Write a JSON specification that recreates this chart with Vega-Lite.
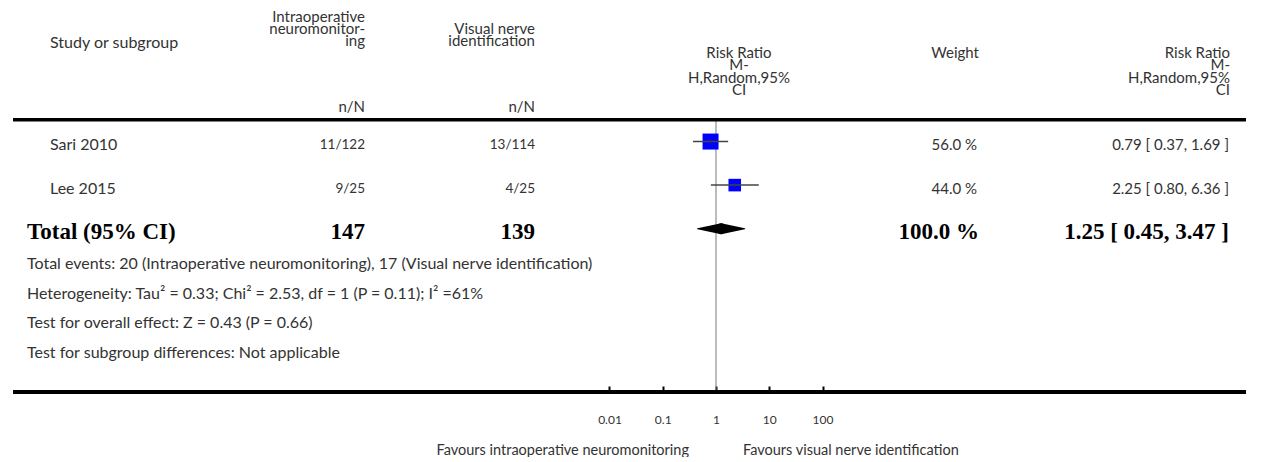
{
  "$schema": "https://vega.github.io/schema/vega-lite/v6.json",
  "background": "white",
  "padding": {"left": 11, "top": 0, "right": 0, "bottom": 0},
  "spacing": 0,
  "bounds": "flush",
  "resolve": {"scale": {"y": "shared"}},
  "config": {
    "view": {"stroke": null},
    "text": {"font": "Lato", "fontSize": 16, "color": "#333333"}
  },
  "datasets": {
    "studies": [
      {"study": "Sari 2010", "row": 1, "int": "11/122", "vis": "13/114", "rr": 0.79, "lo": 0.37, "hi": 1.69, "weight": 56.0, "wtxt": "56.0 %", "ci": "0.79 [ 0.37, 1.69 ]"},
      {"study": "Lee 2015", "row": 2, "int": "9/25", "vis": "4/25", "rr": 2.25, "lo": 0.80, "hi": 6.36, "weight": 44.0, "wtxt": "44.0 %", "ci": "2.25 [ 0.80, 6.36 ]"}
    ],
    "total": [
      {"label": "Total (95% CI)", "row": 3, "int": "147", "vis": "139", "rr": 1.25, "lo": 0.45, "hi": 3.47, "wtxt": "100.0 %", "ci": "1.25 [ 0.45, 3.47 ]"}
    ],
    "headers": [
      {"col": "study", "lines": ["Study or subgroup"]},
      {"col": "int", "lines": ["Intraoperative", "neuromonitor-", "ing"]},
      {"col": "vis", "lines": ["Visual nerve", "identification"]},
      {"col": "plot", "lines": ["Risk Ratio", "M-", "H,Random,95%", "CI"]},
      {"col": "weight", "lines": ["Weight"]},
      {"col": "ci", "lines": ["Risk Ratio", "M-", "H,Random,95%", "CI"]}
    ],
    "units": [
      {"col": "int", "text": "n/N"},
      {"col": "vis", "text": "n/N"}
    ],
    "notes": [
      {"lines": [
        "Total events: 20 (Intraoperative neuromonitoring), 17 (Visual nerve identification)",
        "Heterogeneity: Tau² = 0.33; Chi² = 2.53, df = 1 (P = 0.11); I² =61%",
        "Test for overall effect: Z = 0.43 (P = 0.66)",
        "Test for subgroup differences: Not applicable"
      ]}
    ],
    "favours": [
      {"side": "left", "text": "Favours intraoperative neuromonitoring"},
      {"side": "right", "text": "Favours visual nerve identification"}
    ]
  },
  "hconcat": [
    {
      "width": 352,
      "height": 392,
      "layer": [
        {
          "data": {"name": "total"},
          "mark": {"type": "rule", "color": "black", "strokeWidth": 3.5},
          "encoding": {"y": {"datum": 0.5, "type": "quantitative", "scale": {"domain": [-2.25, 6.75], "reverse": true, "nice": false, "zero": false}, "axis": null}}
        },
        {
          "data": {"name": "total"},
          "mark": {"type": "rule", "color": "black", "strokeWidth": 4},
          "encoding": {"y": {"value": "height"}}
        },
        {
          "data": {"name": "headers"},
          "transform": [{"filter": "datum.col == 'study'"}],
          "mark": {"type": "text", "align": "left", "baseline": "alphabetic", "dx": 37, "dy": -50},
          "encoding": {
            "x": {"value": 0},
            "y": {"datum": 0, "type": "quantitative", "axis": null},
            "text": {"field": "lines"}
          }
        },
        {
          "data": {"name": "headers"},
          "transform": [{"filter": "datum.col == 'int'"}],
          "mark": {"type": "text", "align": "right", "baseline": "alphabetic", "dy": -76, "lineHeight": 12, "fontSize": 15},
          "encoding": {
            "x": {"value": "width"},
            "y": {"datum": 0, "type": "quantitative", "axis": null},
            "text": {"field": "lines"}
          }
        },
        {
          "data": {"name": "units"},
          "transform": [{"filter": "datum.col == 'int'"}],
          "mark": {"type": "text", "align": "right", "baseline": "alphabetic", "dy": 14, "fontSize": 15},
          "encoding": {
            "x": {"value": "width"},
            "y": {"datum": 0, "type": "quantitative", "axis": null},
            "text": {"field": "text"}
          }
        },
        {
          "data": {"name": "studies"},
          "mark": {"type": "text", "align": "left", "baseline": "middle", "dx": 37, "dy": 3.5},
          "encoding": {
            "x": {"value": 0},
            "y": {"field": "row", "type": "quantitative", "axis": null},
            "text": {"field": "study"}
          }
        },
        {
          "data": {"name": "studies"},
          "mark": {"type": "text", "align": "right", "baseline": "middle", "dy": 3.5, "fontSize": 13.5},
          "encoding": {
            "x": {"value": "width"},
            "y": {"field": "row", "type": "quantitative", "axis": null},
            "text": {"field": "int"}
          }
        },
        {
          "data": {"name": "total"},
          "mark": {"type": "text", "align": "left", "baseline": "middle", "dx": 14, "dy": 3.5, "font": "Liberation Serif", "fontWeight": "bold", "fontSize": 23, "color": "black"},
          "encoding": {
            "x": {"value": 0},
            "y": {"field": "row", "type": "quantitative", "axis": null},
            "text": {"field": "label"}
          }
        },
        {
          "data": {"name": "total"},
          "mark": {"type": "text", "align": "right", "baseline": "middle", "dy": 3.5, "font": "Liberation Serif", "fontWeight": "bold", "fontSize": 23, "color": "black"},
          "encoding": {
            "x": {"value": "width"},
            "y": {"field": "row", "type": "quantitative", "axis": null},
            "text": {"field": "int"}
          }
        },
        {
          "data": {"name": "notes"},
          "mark": {"type": "text", "align": "left", "baseline": "alphabetic", "dx": 14, "dy": 40.3, "lineHeight": 29.6},
          "encoding": {
            "x": {"value": 0},
            "y": {"datum": 3, "type": "quantitative", "axis": null},
            "text": {"field": "lines"}
          }
        }
      ]
    },
    {
      "width": 170,
      "height": 392,
      "layer": [
        {
          "data": {"name": "total"},
          "mark": {"type": "rule", "color": "black", "strokeWidth": 3.5},
          "encoding": {"y": {"datum": 0.5, "type": "quantitative", "scale": {"domain": [-2.25, 6.75], "reverse": true, "nice": false, "zero": false}, "axis": null}}
        },
        {
          "data": {"name": "total"},
          "mark": {"type": "rule", "color": "black", "strokeWidth": 4},
          "encoding": {"y": {"value": "height"}}
        },
        {
          "data": {"name": "headers"},
          "transform": [{"filter": "datum.col == 'vis'"}],
          "mark": {"type": "text", "align": "right", "baseline": "alphabetic", "dy": -64, "lineHeight": 12, "fontSize": 15},
          "encoding": {
            "x": {"value": "width"},
            "y": {"datum": 0, "type": "quantitative", "axis": null},
            "text": {"field": "lines"}
          }
        },
        {
          "data": {"name": "units"},
          "transform": [{"filter": "datum.col == 'vis'"}],
          "mark": {"type": "text", "align": "right", "baseline": "alphabetic", "dy": 14, "fontSize": 15},
          "encoding": {
            "x": {"value": "width"},
            "y": {"datum": 0, "type": "quantitative", "axis": null},
            "text": {"field": "text"}
          }
        },
        {
          "data": {"name": "studies"},
          "mark": {"type": "text", "align": "right", "baseline": "middle", "dy": 3.5, "fontSize": 13.5},
          "encoding": {
            "x": {"value": "width"},
            "y": {"field": "row", "type": "quantitative", "axis": null},
            "text": {"field": "vis"}
          }
        },
        {
          "data": {"name": "total"},
          "mark": {"type": "text", "align": "right", "baseline": "middle", "dy": 3.5, "font": "Liberation Serif", "fontWeight": "bold", "fontSize": 23, "color": "black"},
          "encoding": {
            "x": {"value": "width"},
            "y": {"field": "row", "type": "quantitative", "axis": null},
            "text": {"field": "vis"}
          }
        }
      ]
    },
    {
      "width": 471,
      "height": 392,
      "resolve": {"scale": {"size": "independent"}},
      "layer": [
        {
          "data": {"name": "total"},
          "mark": {"type": "rule", "color": "#777777", "strokeWidth": 1},
          "encoding": {
            "x": {
              "datum": 1, "type": "quantitative",
              "scale": {"type": "log", "domain": [0.00039899, 279250], "nice": false},
              "axis": {
                "orient": "bottom", "values": [0.01, 0.1, 1, 10, 100], "format": "~g", "title": null,
                "grid": false, "domain": false, "tickSize": -6, "tickWidth": 2, "tickColor": "black",
                "labelPadding": 28, "labelFont": "Lato", "labelFontSize": 12, "labelColor": "#333333"
              }
            },
            "y": {"datum": 0.5, "type": "quantitative", "scale": {"domain": [-2.25, 6.75], "reverse": true, "nice": false, "zero": false}, "axis": null},
            "y2": {"value": "height"}
          }
        },
        {
          "data": {"name": "total"},
          "mark": {"type": "rule", "color": "black", "strokeWidth": 3.5},
          "encoding": {"y": {"datum": 0.5, "type": "quantitative"}}
        },
        {
          "data": {"name": "total"},
          "mark": {"type": "rule", "color": "black", "strokeWidth": 4},
          "encoding": {"y": {"value": "height"}}
        },
        {
          "data": {"name": "studies"},
          "mark": {"type": "point", "shape": "square", "filled": true, "color": "#0000ff", "opacity": 1},
          "encoding": {
            "x": {"field": "rr", "type": "quantitative"},
            "y": {"field": "row", "type": "quantitative"},
            "size": {"field": "weight", "type": "quantitative", "scale": {"type": "pow", "exponent": 2, "domain": [0, 56], "range": [0, 256]}, "legend": null}
          }
        },
        {
          "data": {"name": "studies"},
          "mark": {"type": "rule", "color": "#444444", "strokeWidth": 1.5},
          "encoding": {
            "x": {"field": "lo", "type": "quantitative"},
            "x2": {"field": "hi"},
            "y": {"field": "row", "type": "quantitative"}
          }
        },
        {
          "data": {"name": "studies"},
          "mark": {"type": "tick", "orient": "vertical", "color": "#333333", "size": 5, "thickness": 1},
          "encoding": {
            "x": {"field": "rr", "type": "quantitative"},
            "y": {"field": "row", "type": "quantitative"}
          }
        },
        {
          "data": {"name": "total"},
          "transform": [{"fold": ["lo", "rr"], "as": ["k", "v"]}],
          "mark": {"type": "trail", "color": "black"},
          "encoding": {
            "x": {"field": "v", "type": "quantitative"},
            "y": {"field": "row", "type": "quantitative"},
            "size": {"field": "k", "type": "nominal", "scale": {"domain": ["lo", "rr"], "range": [0, 11]}, "legend": null}
          }
        },
        {
          "data": {"name": "total"},
          "transform": [{"fold": ["rr", "hi"], "as": ["k", "v"]}],
          "mark": {"type": "trail", "color": "black"},
          "encoding": {
            "x": {"field": "v", "type": "quantitative"},
            "y": {"field": "row", "type": "quantitative"},
            "size": {"field": "k", "type": "nominal", "scale": {"domain": ["hi", "rr"], "range": [0, 11]}, "legend": null}
          }
        },
        {
          "data": {"name": "headers"},
          "transform": [{"filter": "datum.col == 'plot'"}],
          "mark": {"type": "text", "align": "center", "baseline": "alphabetic", "dx": 23, "dy": -40, "lineHeight": 12.3, "fontSize": 15},
          "encoding": {
            "x": {"datum": 1, "type": "quantitative"},
            "y": {"datum": 0, "type": "quantitative"},
            "text": {"field": "lines"}
          }
        },
        {
          "data": {"name": "headers"},
          "transform": [{"filter": "datum.col == 'weight'"}],
          "mark": {"type": "text", "align": "right", "baseline": "alphabetic", "dx": -27, "dy": -40, "fontSize": 15},
          "encoding": {
            "x": {"value": "width"},
            "y": {"datum": 0, "type": "quantitative"},
            "text": {"field": "lines"}
          }
        },
        {
          "data": {"name": "studies"},
          "mark": {"type": "text", "align": "right", "baseline": "middle", "dx": -29, "dy": 3.5, "fontSize": 15},
          "encoding": {
            "x": {"value": "width"},
            "y": {"field": "row", "type": "quantitative"},
            "text": {"field": "wtxt"}
          }
        },
        {
          "data": {"name": "total"},
          "mark": {"type": "text", "align": "right", "baseline": "middle", "dx": -27, "dy": 3.5, "font": "Liberation Serif", "fontWeight": "bold", "fontSize": 23, "color": "black"},
          "encoding": {
            "x": {"value": "width"},
            "y": {"field": "row", "type": "quantitative"},
            "text": {"field": "wtxt"}
          }
        },
        {
          "data": {"name": "favours"},
          "transform": [{"filter": "datum.side == 'left'"}],
          "mark": {"type": "text", "align": "right", "baseline": "alphabetic", "dx": -27, "dy": 62.5, "fontSize": 14.5},
          "encoding": {
            "x": {"datum": 1, "type": "quantitative"},
            "y": {"value": "height"},
            "text": {"field": "text"}
          }
        },
        {
          "data": {"name": "favours"},
          "transform": [{"filter": "datum.side == 'right'"}],
          "mark": {"type": "text", "align": "left", "baseline": "alphabetic", "dx": 27, "dy": 62.5, "fontSize": 14.5},
          "encoding": {
            "x": {"datum": 1, "type": "quantitative"},
            "y": {"value": "height"},
            "text": {"field": "text"}
          }
        }
      ]
    },
    {
      "width": 240,
      "height": 392,
      "layer": [
        {
          "data": {"name": "total"},
          "mark": {"type": "rule", "color": "black", "strokeWidth": 3.5},
          "encoding": {"y": {"datum": 0.5, "type": "quantitative", "scale": {"domain": [-2.25, 6.75], "reverse": true, "nice": false, "zero": false}, "axis": null}}
        },
        {
          "data": {"name": "total"},
          "mark": {"type": "rule", "color": "black", "strokeWidth": 4},
          "encoding": {"y": {"value": "height"}}
        },
        {
          "data": {"name": "headers"},
          "transform": [{"filter": "datum.col == 'ci'"}],
          "mark": {"type": "text", "align": "right", "baseline": "alphabetic", "dx": -16, "dy": -40, "lineHeight": 12.3, "fontSize": 15},
          "encoding": {
            "x": {"value": "width"},
            "y": {"datum": 0, "type": "quantitative", "axis": null},
            "text": {"field": "lines"}
          }
        },
        {
          "data": {"name": "studies"},
          "mark": {"type": "text", "align": "right", "baseline": "middle", "dx": -17, "dy": 3.5, "fontSize": 15},
          "encoding": {
            "x": {"value": "width"},
            "y": {"field": "row", "type": "quantitative", "axis": null},
            "text": {"field": "ci"}
          }
        },
        {
          "data": {"name": "total"},
          "mark": {"type": "text", "align": "right", "baseline": "middle", "dx": -17, "dy": 3.5, "font": "Liberation Serif", "fontWeight": "bold", "fontSize": 23, "color": "black"},
          "encoding": {
            "x": {"value": "width"},
            "y": {"field": "row", "type": "quantitative", "axis": null},
            "text": {"field": "ci"}
          }
        }
      ]
    }
  ]
}
